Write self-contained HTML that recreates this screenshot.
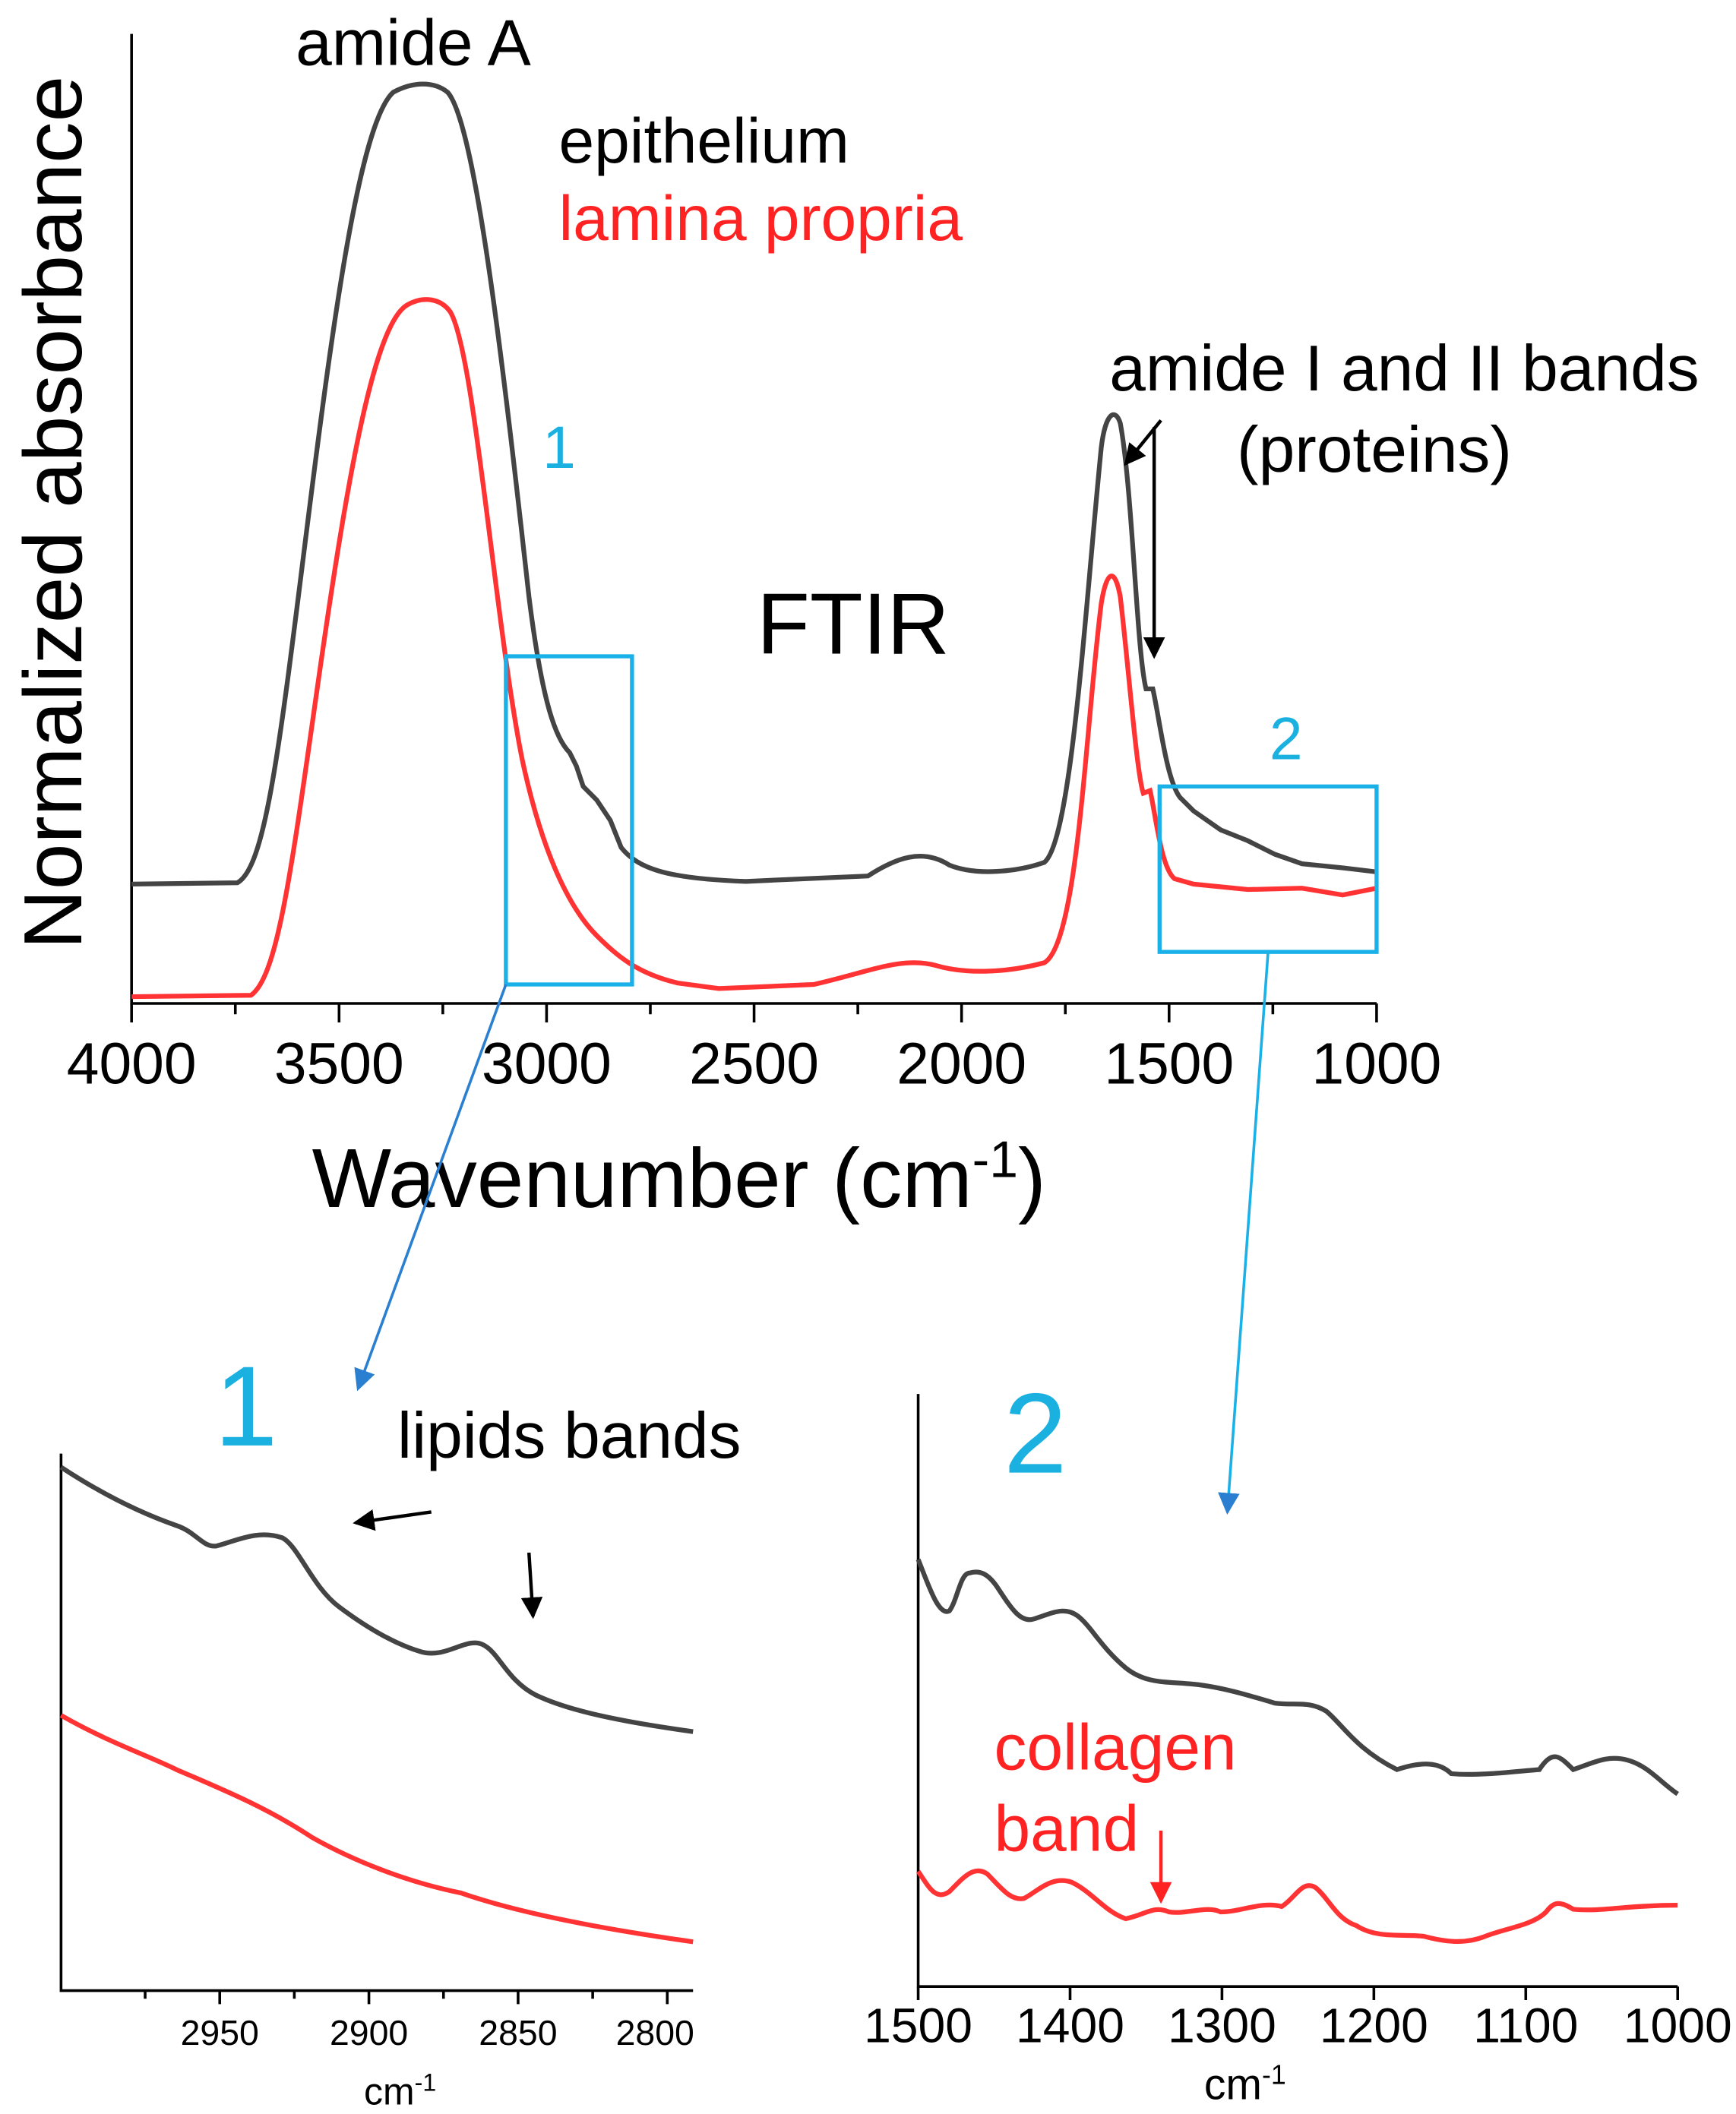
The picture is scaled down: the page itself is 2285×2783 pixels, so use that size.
<!DOCTYPE html>
<html><head><style>html,body{margin:0;padding:0;background:#fff}svg{display:block}</style></head><body>
<svg width="2285" height="2783" viewBox="0 0 1280 1559" xmlns="http://www.w3.org/2000/svg" font-family="Liberation Sans, sans-serif">
<defs>
<marker id="ar" markerWidth="16" markerHeight="16" refX="14" refY="8" orient="auto" markerUnits="userSpaceOnUse"><path d="M0,0 L16,8 L0,16 z" fill="#f22"/></marker>
<marker id="ak" markerWidth="16" markerHeight="16" refX="14" refY="8" orient="auto" markerUnits="userSpaceOnUse"><path d="M0,0 L16,8 L0,16 z" fill="#000"/></marker>
<marker id="abl" markerWidth="16" markerHeight="16" refX="14" refY="8" orient="auto" markerUnits="userSpaceOnUse"><path d="M0,0 L16,8 L0,16 z" fill="#2a7fd0"/></marker>
</defs>
<g stroke="#000" stroke-width="2" fill="none">
<path d="M97,25 V740 H1015"/>
<path d="M97,740v14 M250,740v14 M403,740v14 M556,740v14 M709,740v14 M862,740v14 M1015,740v14"/>
<path d="M173.5,740v8 M326.5,740v8 M479.5,740v8 M632.5,740v8 M785.5,740v8 M938.5,740v8"/>
</g>
<g font-size="43" text-anchor="middle" fill="#000">
<text x="97" y="799">4000</text><text x="250" y="799">3500</text><text x="403" y="799">3000</text><text x="556" y="799">2500</text><text x="709" y="799">2000</text><text x="862" y="799">1500</text><text x="1015" y="799">1000</text>
</g>
<text x="230" y="890" font-size="62">Wavenumber (cm<tspan dy="-22" font-size="38">-1</tspan><tspan dy="22">)</tspan></text>
<text transform="translate(60,378) rotate(-90)" font-size="61" text-anchor="middle">Normalized absorbance</text>
<path fill="none" stroke="#444" stroke-width="3.5" d="M97,652 L175,651 C195,640 205,560 225,400 C245,240 265,90 290,68 C305,60 320,60 330,68 C350,90 370,260 390,440 C400,520 410,545 420,555 L425,565 L430,580 L440,590 L450,605 L458,625 C470,640 490,648 550,650 L640,646 C660,633 680,625 700,638 C720,646 750,643 770,636 C790,620 800,450 812,330 C815,305 822,300 826,312 C835,360 838,480 845,508 L850,508 C855,530 860,575 870,588 L880,598 L900,612 L920,620 L940,630 L960,637 L990,640 L1015,643"/>
<path fill="none" stroke="#f33" stroke-width="3.5" d="M97,735 L185,734 C205,720 215,640 235,500 C255,360 275,240 300,225 C312,218 325,220 332,230 C350,260 365,460 385,560 C400,630 420,670 440,690 C455,705 470,718 500,725 L530,729 L600,726 C640,717 665,705 690,712 C710,718 740,718 770,710 C795,695 800,540 812,445 C816,420 822,418 826,440 C832,490 838,570 843,585 L848,583 C852,600 856,640 866,648 L880,652 L920,656 L960,655 L990,660 L1015,655"/>
<g fill="none" stroke="#1ab0e8" stroke-width="3">
<rect x="373" y="484" width="93" height="242"/>
<rect x="855" y="580" width="160" height="122"/>
</g>
<line x1="373" y1="726" x2="264" y2="1024" stroke="#2a7fd0" stroke-width="2" marker-end="url(#abl)"/>
<line x1="935" y1="702" x2="905" y2="1115" stroke="#1ab0e8" stroke-width="2" marker-end="url(#abl)"/>
<text x="218" y="48" font-size="48">amide A</text>
<text x="412" y="120" font-size="47">epithelium</text>
<text x="412" y="177" font-size="47" fill="#f22">lamina propria</text>
<text x="400" y="345" font-size="44" fill="#1ab0e0">1</text>
<text x="558" y="482" font-size="64">FTIR</text>
<text x="818" y="288" font-size="48">amide I and II bands</text>
<text x="912" y="348" font-size="48">(proteins)</text>
<text x="936" y="560" font-size="44" fill="#1ab0e0">2</text>
<line x1="856" y1="310" x2="830" y2="342" stroke="#000" stroke-width="2.5" marker-end="url(#ak)"/>
<line x1="851" y1="315" x2="851" y2="484" stroke="#000" stroke-width="2.5" marker-end="url(#ak)"/>
<g stroke="#000" stroke-width="2" fill="none">
<path d="M45,1072 V1468 H511"/>
<path d="M162,1468v10 M272,1468v10 M382,1468v10 M492,1468v10 M107,1468v6 M217,1468v6 M327,1468v6 M437,1468v6"/>
</g>
<g font-size="26" text-anchor="middle"><text x="162" y="1508">2950</text><text x="272" y="1508">2900</text><text x="382" y="1508">2850</text><text x="483" y="1508">2800</text></g>
<text x="295" y="1552" font-size="28" text-anchor="middle">cm<tspan dy="-10" font-size="18">-1</tspan></text>
<text x="158" y="1066" font-size="84" fill="#1ab0e0">1</text>
<text x="293" y="1075" font-size="48">lipids bands</text>
<line x1="318" y1="1115" x2="262" y2="1123" stroke="#000" stroke-width="2.5" marker-end="url(#ak)"/>
<line x1="390" y1="1145" x2="393" y2="1192" stroke="#000" stroke-width="2.5" marker-end="url(#ak)"/>
<path fill="none" stroke="#444" stroke-width="3.5" d="M45,1082 C80,1105 110,1118 130,1125 C145,1130 150,1142 160,1140 C175,1136 190,1128 208,1134 C220,1140 230,1170 250,1185 C270,1200 290,1212 310,1218 C330,1224 345,1205 358,1214 C368,1220 375,1240 395,1250 C420,1262 460,1270 511,1277"/>
<path fill="none" stroke="#f33" stroke-width="3.5" d="M45,1265 C80,1285 110,1295 130,1305 C170,1322 200,1335 230,1355 C260,1372 300,1388 340,1396 C380,1410 440,1422 511,1432"/>
<g stroke="#000" stroke-width="2" fill="none">
<path d="M677,1028 V1465 H1237"/>
<path d="M677,1465v10 M789,1465v10 M901,1465v10 M1013,1465v10 M1125,1465v10 M1237,1465v10"/>
</g>
<g font-size="36" text-anchor="middle"><text x="677" y="1506">1500</text><text x="789" y="1506">1400</text><text x="901" y="1506">1300</text><text x="1013" y="1506">1200</text><text x="1125" y="1506">1100</text><text x="1237" y="1506">1000</text></g>
<text x="918" y="1548" font-size="32" text-anchor="middle">cm<tspan dy="-11" font-size="20">-1</tspan></text>
<text x="740" y="1086" font-size="84" fill="#1ab0e0">2</text>
<path fill="none" stroke="#444" stroke-width="3.5" d="M677,1150 C685,1170 692,1192 700,1188 C706,1180 708,1160 715,1160 C722,1158 728,1160 735,1170 C745,1185 752,1197 762,1194 C775,1190 785,1184 795,1192 C805,1200 812,1215 830,1230 C845,1242 860,1240 880,1242 C900,1244 920,1250 940,1256 C955,1258 965,1254 978,1262 C990,1272 1000,1290 1030,1305 C1045,1300 1060,1298 1070,1308 C1090,1310 1120,1306 1135,1305 C1145,1290 1150,1295 1160,1305 C1175,1300 1185,1294 1200,1298 C1215,1302 1225,1315 1237,1323"/>
<path fill="none" stroke="#f33" stroke-width="3.5" d="M677,1380 C685,1392 690,1402 700,1395 C710,1385 718,1375 728,1382 C738,1392 745,1402 755,1400 C765,1395 775,1383 790,1388 C805,1395 815,1410 830,1415 C845,1412 850,1405 862,1410 C875,1412 890,1405 900,1410 C915,1410 930,1402 945,1406 C955,1400 960,1386 970,1392 C980,1400 985,1415 1000,1420 C1015,1430 1035,1426 1050,1428 C1065,1432 1080,1434 1095,1428 C1110,1422 1130,1420 1140,1410 C1146,1402 1150,1402 1160,1408 C1180,1410 1200,1405 1237,1405"/>
<text x="733" y="1305" font-size="48" fill="#f22">collagen</text>
<text x="733" y="1365" font-size="48" fill="#f22">band</text>
<line x1="856" y1="1350" x2="856" y2="1402" stroke="#f22" stroke-width="2.5" marker-end="url(#ar)"/>
</svg>
</body></html>
